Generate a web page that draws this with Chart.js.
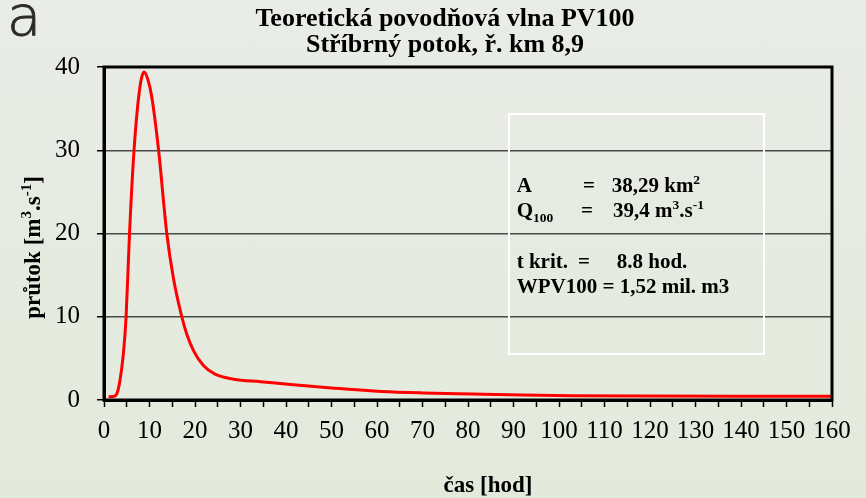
<!DOCTYPE html>
<html><head><meta charset="utf-8">
<script src="https://cdn.jsdelivr.net/npm/chart.js@4.4.0/dist/chart.umd.min.js"></script>
<style>
html,body{margin:0;padding:0;}
body{width:866px;height:498px;overflow:hidden;background:linear-gradient(#e9ece7,#e3eadb);position:relative;}
#wrap{position:absolute;left:0;top:0;width:866px;height:498px;}
#deco{position:absolute;left:7px;top:-12px;font-family:"DejaVu Sans";font-weight:200;font-size:56px;color:#2a2a2a;line-height:1;-webkit-text-stroke:0.8px #2a2a2a;}
</style></head><body>
<div id="deco">a</div>
<div id="wrap"><canvas id="c"></canvas></div>
<script>
// ---- data ----
const hours     = [1, 2, 2.8, 3.5, 4.25, 4.85, 5.6, 6.6, 7.9, 8.8, 9.7, 10.5, 12, 13.8, 15.3, 17.1, 18.2, 19.7, 21.9, 24.4, 28.5, 34.4, 41, 50, 61, 70, 81, 92, 103, 120, 140, 160];
const discharge = [0.4, 0.42, 0.72, 2.3, 5.5, 9.9, 19.9, 30, 37.6, 39.4, 38.4, 36.4, 30, 20, 14.5, 10, 7.9, 5.9, 4.1, 3.1, 2.5, 2.2, 1.85, 1.45, 1.03, 0.85, 0.72, 0.6, 0.52, 0.47, 0.45, 0.45];
const xTickLabels = [0, 10, 20, 30, 40, 50, 60, 70, 80, 90, 100, 110, 120, 130, 140, 150, 160];
const yTickLabels = [0, 10, 20, 30, 40];
const titleLines = ["Teoretická povodňová vlna PV100", "Stříbrný potok, ř. km 8,9"];
const xTitle = "čas [hod]";
const yTitleRuns = [{t:"průtok [m"},{t:"3",sup:true},{t:".s"},{t:"-1",sup:true},{t:"]"}];
const infoLines = [
  {y:192, parts:[{x:516.7, runs:[{t:"A"}]}, {x:583, runs:[{t:"="}]}, {x:611.7, runs:[{t:"38,29 km"},{t:"2",sup:true}]}]},
  {y:217, parts:[{x:516.7, runs:[{t:"Q"},{t:"100",sub:true}]}, {x:581, runs:[{t:"="}]}, {x:613, runs:[{t:"39,4 m"},{t:"3",sup:true},{t:".s"},{t:"-1",sup:true}]}]},
  {y:268, parts:[{x:516.7, runs:[{t:"t krit."}]}, {x:578, runs:[{t:"="}]}, {x:616.7, runs:[{t:"8.8 hod."}]}]},
  {y:293, parts:[{x:516.7, runs:[{t:"WPV100 = 1,52 mil. m3"}]}]}
];

const SERIF = '"Liberation Serif", "Times New Roman", serif';

function runsWidth(ctx, runs, size, small){
  let w = 0;
  for (const r of runs){
    ctx.font = 'bold ' + ((r.sup||r.sub)?small:size) + 'px ' + SERIF;
    w += ctx.measureText(r.t).width;
  }
  return w;
}
function drawRuns(ctx, x, y, runs, size, small, raise, lower){
  for (const r of runs){
    ctx.font = 'bold ' + ((r.sup||r.sub)?small:size) + 'px ' + SERIF;
    const dy = r.sup ? -raise : (r.sub ? lower : 0);
    ctx.fillText(r.t, x, y + dy);
    x += ctx.measureText(r.t).width;
  }
}

const textPlugin = {
  id: 'texts',
  afterDraw(chart){
    const ctx = chart.ctx, a = chart.chartArea;
    ctx.save();
    // frame
    ctx.strokeStyle = '#000'; ctx.lineWidth = 3;
    ctx.strokeRect(a.left, a.top, a.right - a.left, a.bottom - a.top);
    // info box
    ctx.strokeStyle = '#ffffff'; ctx.lineWidth = 2;
    ctx.strokeRect(509, 114, 255, 240);
    ctx.fillStyle = '#000'; ctx.textAlign = 'left'; ctx.textBaseline = 'alphabetic';
    for (const line of infoLines){
      for (const p of line.parts){
        drawRuns(ctx, p.x, line.y, p.runs, 21, 13.5, 8, 5);
      }
    }
    // title
    ctx.textAlign = 'center';
    ctx.font = 'bold 26px ' + SERIF;
    ctx.fillText(titleLines[0], 445, 26);
    ctx.fillText(titleLines[1], 445, 52);
    // x title
    ctx.font = 'bold 23px ' + SERIF;
    ctx.fillText(xTitle, 488, 492);
    // y title
    ctx.textAlign = 'left';
    ctx.translate(40, 247.5);
    ctx.rotate(-Math.PI/2);
    const w = runsWidth(ctx, yTitleRuns, 23, 15);
    drawRuns(ctx, -w/2, 0, yTitleRuns, 23, 15, 9, 0);
    ctx.restore();
  }
};

Chart.defaults.font.family = SERIF;
Chart.defaults.color = '#000';

new Chart(document.getElementById('c'), {
  type: 'line',
  data: {
    datasets: [{
      data: hours.map((h, i) => ({x: h, y: discharge[i]})),
      borderColor: '#ff0000',
      borderWidth: 3,
      pointRadius: 0,
      fill: false,
      cubicInterpolationMode: 'monotone',
      tension: 0.4
    }]
  },
  options: {
    responsive: true,
    maintainAspectRatio: false,
    animation: false,
    devicePixelRatio: 1,
    layout: { padding: { top: 67, right: 34, left: 0, bottom: 0 } },
    plugins: { legend: { display: false }, title: { display: false }, tooltip: { enabled: false } },
    scales: {
      x: {
        type: 'linear', min: 0, max: 160,
        afterFit(s){ s.height = 98; },
        afterBuildTicks(s){
          const t = [];
          for (let v = 0; v <= 160; v += 5) t.push({value: v});
          s.ticks = t;
        },
        ticks: {
          autoSkip: false, maxRotation: 0, padding: 9,
          font: { size: 25 },
          callback: v => xTickLabels.includes(v) ? String(v) : ''
        },
        grid: { drawOnChartArea: false, drawTicks: true, tickLength: 7, tickColor: '#000', tickWidth: 1.5 },
        border: { color: '#000', width: 3 }
      },
      y: {
        min: 0, max: 40,
        afterFit(s){ s.width = 104; },
        afterBuildTicks(s){ s.ticks = yTickLabels.map(v => ({value: v})); },
        ticks: { padding: 17, font: { size: 25 } },
        grid: { color: '#4a4a4a', lineWidth: 1.5, tickLength: 7, tickColor: '#000', tickWidth: 1.5 },
        border: { color: '#000', width: 3 }
      }
    }
  },
  plugins: [textPlugin]
});
</script>
</body></html>
